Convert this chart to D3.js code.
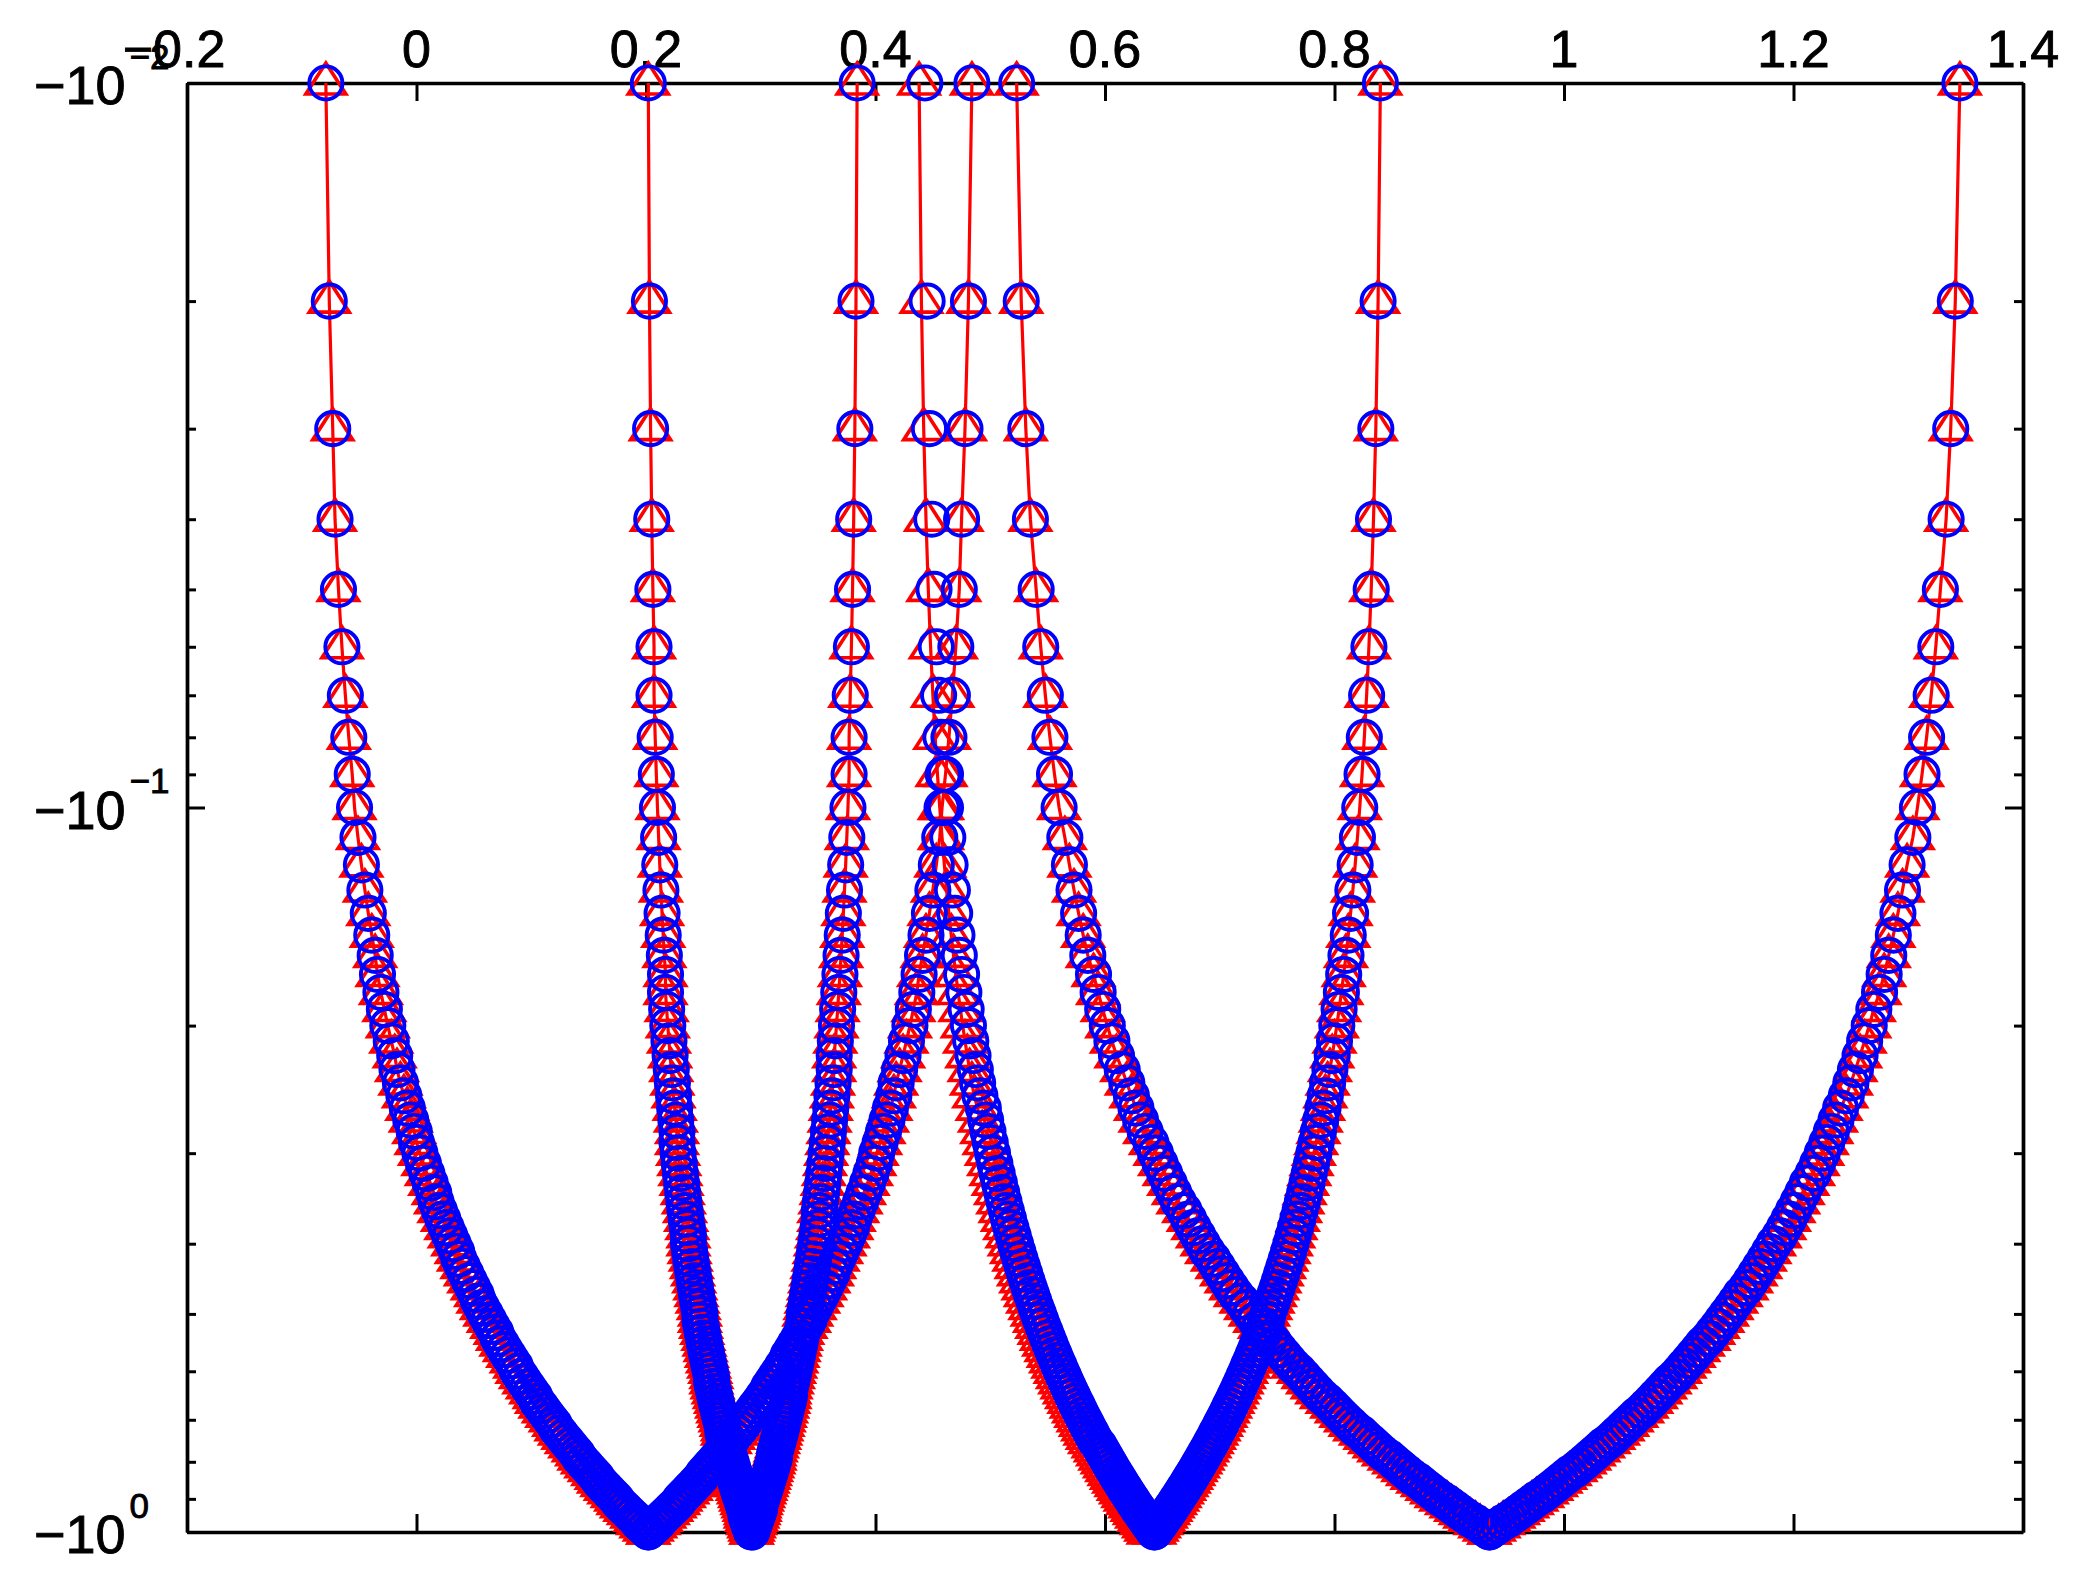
<!DOCTYPE html>
<html><head><meta charset="utf-8">
<script src="https://cdn.jsdelivr.net/npm/d3@7"></script>
<style>
body{margin:0;background:#fff}
text{font-family:"Liberation Sans",Arial,Helvetica,sans-serif;fill:#000;stroke:#000;stroke-width:0.9px}
</style>
</head><body>
<svg id="chart" width="2095" height="1572"></svg>
<script>
// y values of every sample (same for all curves)
const levels = [
-0.01,-0.02,-0.03,-0.04,-0.05,-0.06,-0.07,-0.08,-0.09,-0.10,
-0.11,-0.12,-0.13,-0.14,-0.15,-0.16,-0.17,-0.18,-0.19,-0.20,
-0.21,-0.22,-0.23,-0.24,-0.25,-0.26,-0.27,-0.28,-0.29,-0.30,
-0.31,-0.32,-0.33,-0.34,-0.35,-0.36,-0.37,-0.38,-0.39,-0.40,
-0.41,-0.42,-0.43,-0.44,-0.45,-0.46,-0.47,-0.48,-0.49,-0.50,
-0.51,-0.52,-0.53,-0.54,-0.55,-0.56,-0.57,-0.58,-0.59,-0.60,
-0.61,-0.62,-0.63,-0.64,-0.65,-0.66,-0.67,-0.68,-0.69,-0.70,
-0.71,-0.72,-0.73,-0.74,-0.75,-0.76,-0.77,-0.78,-0.79,-0.80,
-0.81,-0.82,-0.83,-0.84,-0.85,-0.86,-0.87,-0.88,-0.89,-0.90,
-0.91,-0.92,-0.93,-0.94,-0.95,-0.96,-0.97,-0.98,-0.99,-1.00];

const curve1X = [
-0.079,-0.076,-0.073,-0.071,-0.068,-0.065,-0.062,-0.059,-0.056,-0.054,
-0.051,-0.048,-0.045,-0.042,-0.039,-0.036,-0.034,-0.031,-0.028,-0.025,
-0.022,-0.019,-0.017,-0.014,-0.011,-0.008,-0.005,-0.002,0.000,0.003,
0.006,0.009,0.012,0.015,0.017,0.020,0.023,0.026,0.029,0.032,
0.035,0.037,0.040,0.043,0.046,0.049,0.052,0.054,0.057,0.060,
0.063,0.066,0.069,0.071,0.074,0.077,0.080,0.083,0.086,0.088,
0.091,0.094,0.097,0.100,0.103,0.105,0.108,0.111,0.114,0.117,
0.120,0.122,0.125,0.128,0.131,0.134,0.137,0.140,0.142,0.145,
0.148,0.151,0.154,0.157,0.159,0.162,0.165,0.168,0.171,0.174,
0.176,0.179,0.182,0.185,0.188,0.191,0.193,0.196,0.199,0.202];

const curve2X = [
0.202,0.203,0.204,0.205,0.206,0.207,0.207,0.208,0.209,0.210,
0.211,0.212,0.213,0.214,0.215,0.216,0.217,0.217,0.218,0.219,
0.220,0.221,0.222,0.223,0.224,0.225,0.226,0.227,0.227,0.228,
0.229,0.230,0.231,0.232,0.233,0.234,0.235,0.236,0.237,0.237,
0.238,0.239,0.240,0.241,0.242,0.243,0.244,0.245,0.246,0.247,
0.247,0.248,0.249,0.250,0.251,0.252,0.253,0.254,0.255,0.256,
0.257,0.257,0.258,0.259,0.260,0.261,0.262,0.263,0.264,0.265,
0.266,0.267,0.267,0.268,0.269,0.270,0.271,0.272,0.273,0.274,
0.275,0.276,0.277,0.277,0.278,0.279,0.280,0.281,0.282,0.283,
0.284,0.285,0.286,0.287,0.287,0.288,0.289,0.290,0.291,0.292];

const curve3X = [
0.384,0.383,0.382,0.381,0.380,0.379,0.378,0.377,0.377,0.376,
0.375,0.374,0.373,0.372,0.371,0.370,0.369,0.368,0.367,0.366,
0.365,0.364,0.364,0.363,0.362,0.361,0.360,0.359,0.358,0.357,
0.356,0.355,0.354,0.353,0.352,0.351,0.351,0.350,0.349,0.348,
0.347,0.346,0.345,0.344,0.343,0.342,0.341,0.340,0.339,0.338,
0.338,0.337,0.336,0.335,0.334,0.333,0.332,0.331,0.330,0.329,
0.328,0.327,0.326,0.325,0.325,0.324,0.323,0.322,0.321,0.320,
0.319,0.318,0.317,0.316,0.315,0.314,0.313,0.312,0.312,0.311,
0.310,0.309,0.308,0.307,0.306,0.305,0.304,0.303,0.302,0.301,
0.300,0.299,0.299,0.298,0.297,0.296,0.295,0.294,0.293,0.292];

const curve4X = [
0.443,0.445,0.447,0.449,0.451,0.453,0.455,0.457,0.459,0.461,
0.463,0.465,0.467,0.469,0.471,0.473,0.475,0.477,0.479,0.481,
0.483,0.485,0.487,0.489,0.491,0.494,0.496,0.498,0.500,0.502,
0.504,0.506,0.508,0.510,0.512,0.514,0.516,0.518,0.520,0.522,
0.524,0.526,0.528,0.530,0.532,0.534,0.536,0.538,0.540,0.542,
0.544,0.546,0.548,0.550,0.552,0.554,0.556,0.558,0.560,0.562,
0.564,0.566,0.568,0.570,0.572,0.574,0.576,0.578,0.580,0.582,
0.584,0.586,0.588,0.590,0.592,0.595,0.597,0.599,0.601,0.603,
0.605,0.607,0.609,0.611,0.613,0.615,0.617,0.619,0.621,0.623,
0.625,0.627,0.629,0.631,0.633,0.635,0.637,0.639,0.641,0.643];

// red counterpart of curve 4 (slightly to the left)
const curve4RedX = [
0.438,0.440,0.442,0.444,0.446,0.448,0.450,0.452,0.454,0.456,
0.458,0.460,0.462,0.464,0.466,0.468,0.470,0.472,0.474,0.476,
0.478,0.480,0.482,0.484,0.486,0.489,0.491,0.493,0.495,0.497,
0.499,0.501,0.503,0.505,0.507,0.509,0.511,0.513,0.515,0.517,
0.519,0.521,0.523,0.525,0.527,0.529,0.531,0.533,0.535,0.537,
0.539,0.541,0.543,0.545,0.547,0.549,0.551,0.553,0.555,0.557,
0.559,0.561,0.563,0.565,0.567,0.569,0.571,0.573,0.575,0.577,
0.579,0.581,0.583,0.585,0.587,0.590,0.592,0.594,0.596,0.598,
0.600,0.602,0.604,0.606,0.608,0.610,0.612,0.614,0.616,0.618,
0.620,0.622,0.624,0.626,0.628,0.630,0.632,0.634,0.636,0.638];

const curve5X = [
0.484,0.481,0.478,0.475,0.473,0.470,0.467,0.464,0.461,0.458,
0.456,0.453,0.450,0.447,0.444,0.441,0.438,0.436,0.433,0.430,
0.427,0.424,0.421,0.418,0.416,0.413,0.410,0.407,0.404,0.401,
0.399,0.396,0.393,0.390,0.387,0.384,0.381,0.379,0.376,0.373,
0.370,0.367,0.364,0.362,0.359,0.356,0.353,0.350,0.347,0.344,
0.342,0.339,0.336,0.333,0.330,0.327,0.324,0.322,0.319,0.316,
0.313,0.310,0.307,0.305,0.302,0.299,0.296,0.293,0.290,0.287,
0.285,0.282,0.279,0.276,0.273,0.270,0.268,0.265,0.262,0.259,
0.256,0.253,0.250,0.248,0.245,0.242,0.239,0.236,0.233,0.230,
0.228,0.225,0.222,0.219,0.216,0.213,0.211,0.208,0.205,0.202];

const curve6X = [
0.523,0.527,0.531,0.535,0.540,0.544,0.548,0.552,0.556,0.560,
0.565,0.569,0.573,0.577,0.581,0.585,0.590,0.594,0.598,0.602,
0.606,0.610,0.615,0.619,0.623,0.627,0.631,0.635,0.640,0.644,
0.648,0.652,0.656,0.660,0.664,0.669,0.673,0.677,0.681,0.685,
0.689,0.694,0.698,0.702,0.706,0.710,0.714,0.719,0.723,0.727,
0.731,0.735,0.739,0.744,0.748,0.752,0.756,0.760,0.764,0.769,
0.773,0.777,0.781,0.785,0.789,0.794,0.798,0.802,0.806,0.810,
0.814,0.818,0.823,0.827,0.831,0.835,0.839,0.843,0.848,0.852,
0.856,0.860,0.864,0.868,0.873,0.877,0.881,0.885,0.889,0.893,
0.898,0.902,0.906,0.910,0.914,0.918,0.923,0.927,0.931,0.935];

const curve7X = [
0.840,0.838,0.836,0.834,0.832,0.830,0.828,0.826,0.824,0.822,
0.820,0.818,0.816,0.814,0.812,0.810,0.808,0.806,0.804,0.802,
0.800,0.798,0.796,0.794,0.792,0.790,0.788,0.786,0.784,0.782,
0.780,0.778,0.776,0.774,0.772,0.770,0.768,0.766,0.764,0.762,
0.760,0.758,0.756,0.754,0.752,0.750,0.748,0.746,0.744,0.742,
0.741,0.739,0.737,0.735,0.733,0.731,0.729,0.727,0.725,0.723,
0.721,0.719,0.717,0.715,0.713,0.711,0.709,0.707,0.705,0.703,
0.701,0.699,0.697,0.695,0.693,0.691,0.689,0.687,0.685,0.683,
0.681,0.679,0.677,0.675,0.673,0.671,0.669,0.667,0.665,0.663,
0.661,0.659,0.657,0.655,0.653,0.651,0.649,0.647,0.645,0.643];

const curve8X = [
1.345,1.341,1.337,1.333,1.328,1.324,1.320,1.316,1.312,1.308,
1.304,1.299,1.295,1.291,1.287,1.283,1.279,1.275,1.270,1.266,
1.262,1.258,1.254,1.250,1.246,1.241,1.237,1.233,1.229,1.225,
1.221,1.217,1.212,1.208,1.204,1.200,1.196,1.192,1.188,1.183,
1.179,1.175,1.171,1.167,1.163,1.159,1.154,1.150,1.146,1.142,
1.138,1.134,1.130,1.126,1.121,1.117,1.113,1.109,1.105,1.101,
1.097,1.092,1.088,1.084,1.080,1.076,1.072,1.068,1.063,1.059,
1.055,1.051,1.047,1.043,1.039,1.034,1.030,1.026,1.022,1.018,
1.014,1.010,1.005,1.001,0.997,0.993,0.989,0.985,0.981,0.976,
0.972,0.968,0.964,0.960,0.956,0.952,0.947,0.943,0.939,0.935];

const redSeries  = [curve1X, curve2X, curve3X, curve4RedX, curve5X, curve6X, curve7X, curve8X];
const blueSeries = [curve1X, curve2X, curve3X, curve4X,    curve5X, curve6X, curve7X, curve8X];

const xTicks = [-0.2, 0, 0.2, 0.4, 0.6, 0.8, 1, 1.2, 1.4];
const xTickLabels = ["\u22120.2", "0", "0.2", "0.4", "0.6", "0.8", "1", "1.2", "1.4"];
const yMajorTicks = [-0.01, -0.1, -1];
const yTickExponents = ["\u22122", "\u22121", "0"];
const yMinorTicks = [-0.02,-0.03,-0.04,-0.05,-0.06,-0.07,-0.08,-0.09,
                     -0.2,-0.3,-0.4,-0.5,-0.6,-0.7,-0.8,-0.9];

// ---------- layout ----------
const L = 187, R = 2023, T = 83, B = 1532;
const svg = d3.select("#chart");
svg.append("rect").attr("width", 2095).attr("height", 1572).attr("fill", "#fff");

const x = d3.scaleLinear().domain([-0.2, 1.4]).range([L, R]);
const y = d3.scaleLog().domain([-0.01, -1]).range([T, B]);

const axisW = 3.4, tickW = 3;
function styleAxis(g) {
  g.selectAll("path.domain").attr("stroke", "#000").attr("stroke-width", axisW);
  g.selectAll(".tick line").attr("stroke", "#000").attr("stroke-width", tickW);
  g.selectAll(".tick text").remove();
}

// x axes (top with labels, bottom plain)
svg.append("g").attr("transform", `translate(0,${T})`)
  .call(d3.axisTop(x).tickValues(xTicks).tickSizeInner(-18).tickSizeOuter(0).tickFormat(""))
  .call(styleAxis);
svg.append("g").attr("transform", `translate(0,${B})`)
  .call(d3.axisBottom(x).tickValues(xTicks).tickSizeInner(-18).tickSizeOuter(0).tickFormat(""))
  .call(styleAxis);

// y axes major
svg.append("g").attr("transform", `translate(${L},0)`)
  .call(d3.axisLeft(y).tickValues(yMajorTicks).tickSizeInner(-18).tickSizeOuter(0).tickFormat(""))
  .call(styleAxis);
svg.append("g").attr("transform", `translate(${R},0)`)
  .call(d3.axisRight(y).tickValues(yMajorTicks).tickSizeInner(-18).tickSizeOuter(0).tickFormat(""))
  .call(styleAxis);
// y axes minor
svg.append("g").attr("transform", `translate(${L},0)`)
  .call(d3.axisLeft(y).tickValues(yMinorTicks).tickSizeInner(-9).tickSizeOuter(0).tickFormat(""))
  .call(styleAxis);
svg.append("g").attr("transform", `translate(${R},0)`)
  .call(d3.axisRight(y).tickValues(yMinorTicks).tickSizeInner(-9).tickSizeOuter(0).tickFormat(""))
  .call(styleAxis);

// x tick labels (top)
svg.append("g").selectAll("text").data(xTicks).join("text")
  .attr("x", d => x(d))
  .attr("y", T - 16)
  .attr("dx", (d, i) => xTickLabels[i].startsWith("\u2212") ? -13 : 0)
  .attr("text-anchor", "middle")
  .attr("font-size", 52)
  .text((d, i) => xTickLabels[i]);

// y tick labels  −10^k
const yl = svg.append("g").selectAll("text").data(yMajorTicks).join("text")
  .attr("x", 34)
  .attr("y", d => y(d) + 21)
  .attr("font-size", 54);
yl.append("tspan").text("\u221210");
yl.append("tspan").attr("dx", 4).attr("dy", -35.5).attr("font-size", 35)
  .text((d, i) => yTickExponents[i]);

// ---------- data ----------
const line = d3.line().x(d => x(d[0])).y(d => y(d[1]));
const toPts = arr => arr.map((v, k) => [v, levels[k]]);
const triPath = "M0,-20L20,11L-20,11Z";

const redG = svg.append("g");
redSeries.forEach(arr => {
  const pts = toPts(arr);
  redG.append("path").attr("d", line(pts)).attr("fill", "none")
    .attr("stroke", "#ff0000").attr("stroke-width", 3.2).attr("stroke-linejoin", "round");
  redG.append("g").selectAll("path").data(pts).join("path")
    .attr("d", triPath)
    .attr("transform", d => `translate(${x(d[0])},${y(d[1])})`)
    .attr("fill", "none").attr("stroke", "#ff0000").attr("stroke-width", 3.6)
    .attr("stroke-linejoin", "miter");
});

const blueG = svg.append("g");
blueSeries.forEach(arr => {
  const pts = toPts(arr);
  blueG.append("g").selectAll("circle").data(pts).join("circle")
    .attr("cx", d => x(d[0])).attr("cy", d => y(d[1])).attr("r", 16.6)
    .attr("fill", "none").attr("stroke", "#0000ff").attr("stroke-width", 3.9);
});
</script>
</body></html>
